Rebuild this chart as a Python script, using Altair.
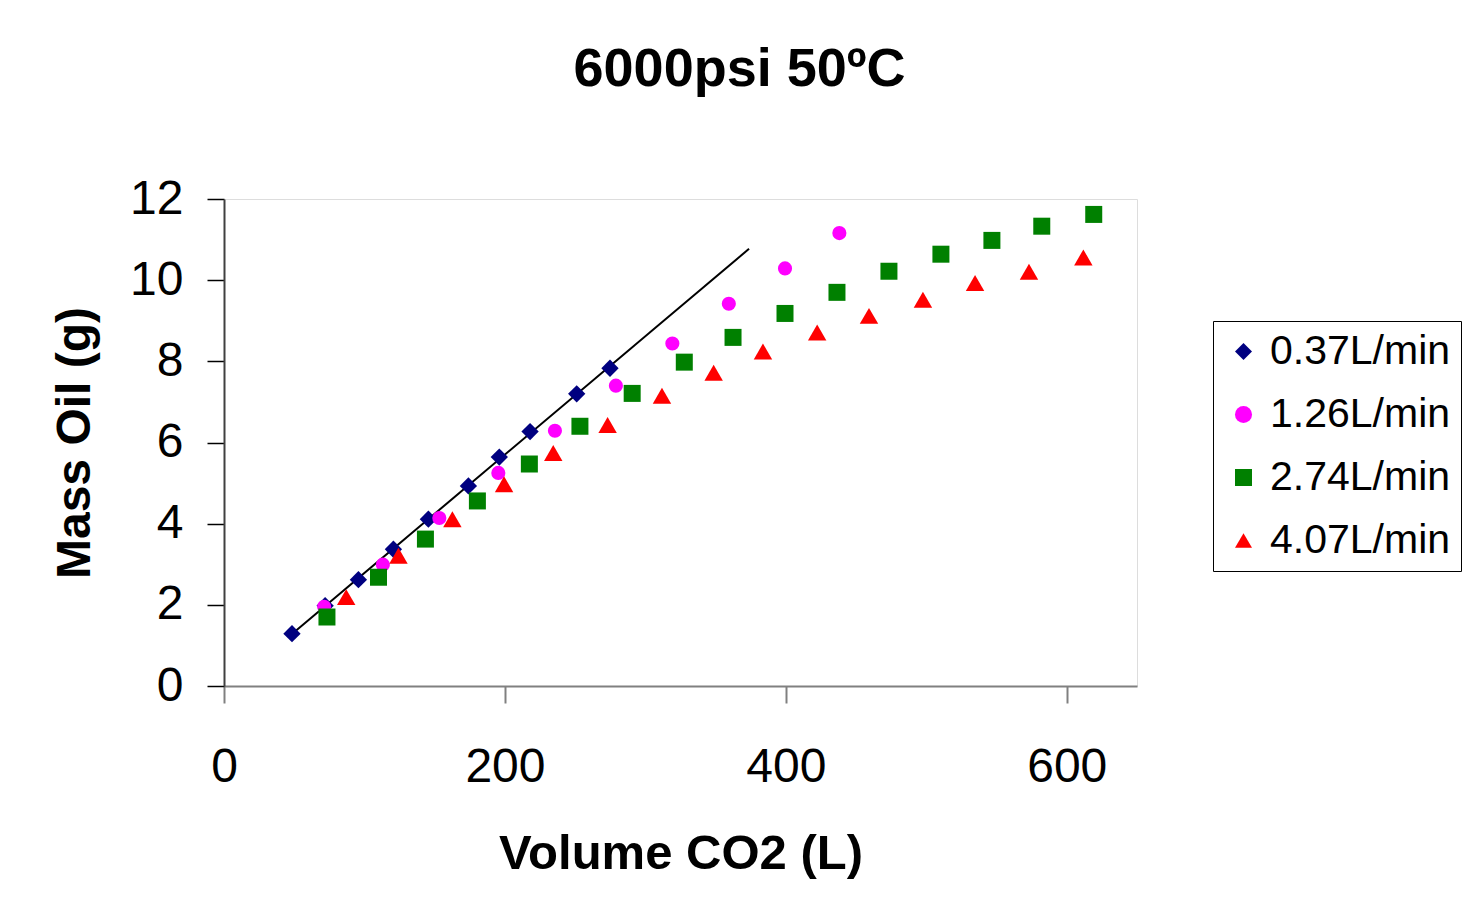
import altair as alt
import pandas as pd

series_names = ["0.37L/min", "1.26L/min", "2.74L/min", "4.07L/min"]
series_colors = ["#000080", "#FF00FF", "#008000", "#FF0000"]
series_shapes = ["diamond", "circle", "square", "triangle-up"]
series_sizes = [300, 200, 289, 340]

x_037 = [48.4, 72.0, 95.7, 120.6, 145.5, 174.0, 196.0, 217.9, 251.1, 274.8]
y_037 = [1.29, 1.98, 2.62, 3.37, 4.11, 4.93, 5.64, 6.27, 7.20, 7.83]
x_126 = [71.3, 113.1, 153.3, 195.3, 235.6, 279.0, 319.2, 359.4, 399.4, 438.1]
y_126 = [1.95, 2.99, 4.14, 5.25, 6.29, 7.40, 8.44, 9.42, 10.29, 11.16]
x_274 = [73.3, 110.0, 143.4, 180.4, 217.4, 253.4, 290.6, 327.7, 362.4, 399.4,
         436.4, 473.4, 510.4, 546.7, 582.2, 619.2]
y_274 = [1.70, 2.68, 3.62, 4.56, 5.47, 6.40, 7.21, 7.98, 8.59, 9.18,
         9.70, 10.22, 10.64, 10.98, 11.33, 11.62]
x_407 = [87.0, 124.2, 162.6, 199.4, 234.4, 273.1, 311.8, 348.6, 383.7, 422.3,
         459.2, 497.6, 534.7, 573.1, 611.8]
y_407 = [2.19, 3.21, 4.11, 4.97, 5.74, 6.43, 7.15, 7.72, 8.24, 8.71,
         9.12, 9.52, 9.93, 10.21, 10.56]

trend_extent = [48.4, 373.8]

x_ticks = [0, 200, 400, 600]
y_ticks = [0, 2, 4, 6, 8, 10, 12]

rows = []
for name, xs, ys in zip(series_names, [x_037, x_126, x_274, x_407],
                        [y_037, y_126, y_274, y_407]):
    for xv, yv in zip(xs, ys):
        rows.append({"series": name, "vol": xv, "mass": yv})
df = pd.DataFrame(rows)

FONT = "Liberation Sans"

x_enc = alt.X("vol:Q",
              scale=alt.Scale(domain=[0, 650], nice=False),
              axis=alt.Axis(values=x_ticks, title="Volume CO2 (L)",
                            labelFontSize=48, labelFont=FONT, labelColor="black",
                            labelPadding=40, labelFlush=False,
                            tickSize=17, tickColor="#808080",
                            tickWidth=2, domainColor="#808080", domainWidth=2,
                            grid=False, titleFontSize=49, titleFont=FONT,
                            titleFontWeight="bold", titleColor="black",
                            titleY=182, titleBaseline="alphabetic"))
y_enc = alt.Y("mass:Q",
              scale=alt.Scale(domain=[0, 12], nice=False),
              axis=alt.Axis(values=y_ticks, title="Mass Oil (g)",
                            labelFontSize=48, labelFont=FONT, labelColor="black",
                            labelPadding=24, labelFlush=False,
                            tickSize=17, tickColor="black",
                            tickWidth=1.5, domainColor="#404040", domainWidth=2,
                            grid=False, titleFontSize=48, titleFont=FONT,
                            titleFontWeight="bold", titleColor="black",
                            titleX=-135, titleBaseline="alphabetic"))

color_enc = alt.Color("series:N",
                      scale=alt.Scale(domain=series_names, range=series_colors),
                      legend=alt.Legend(title=None, orient="none", legendX=989,
                                        legendY=122, strokeColor="black",
                                        padding=10, labelLimit=0,
                                        labelFontSize=41, labelFont=FONT,
                                        labelColor="black", rowPadding=21,
                                        labelOffset=6, symbolOffset=0,
                                        symbolSize=290))
shape_enc = alt.Shape("series:N",
                      scale=alt.Scale(domain=series_names, range=series_shapes))

layers = []
trend = alt.Chart(df).transform_filter(
    alt.datum.series == series_names[0]
).transform_regression("vol", "mass", extent=trend_extent).mark_line(
    color="black", strokeWidth=2
).encode(x=x_enc, y=y_enc)
layers.append(trend)

for name, sz in zip(series_names, series_sizes):
    layers.append(
        alt.Chart(df).transform_filter(alt.datum.series == name)
        .mark_point(filled=True, opacity=1, strokeWidth=0, size=sz)
        .encode(x=x_enc, y=y_enc, color=color_enc, shape=shape_enc)
    )

chart = alt.layer(*layers).properties(
    width=913, height=487,
    autosize=alt.AutoSizeParams(type="none"),
    padding={"left": 216, "top": 191, "right": 326, "bottom": 210},
    title=alt.TitleParams("6000psi 50ºC", fontSize=54, font=FONT,
                          fontWeight="bold", color="black", anchor="middle",
                          frame="group", dx=59, offset=35,
                          baseline="alphabetic"),
).configure_view(stroke="#808080", strokeWidth=2).configure(background="white")

chart.save("out.html", embed_options={"renderer": "svg", "actions": False})
